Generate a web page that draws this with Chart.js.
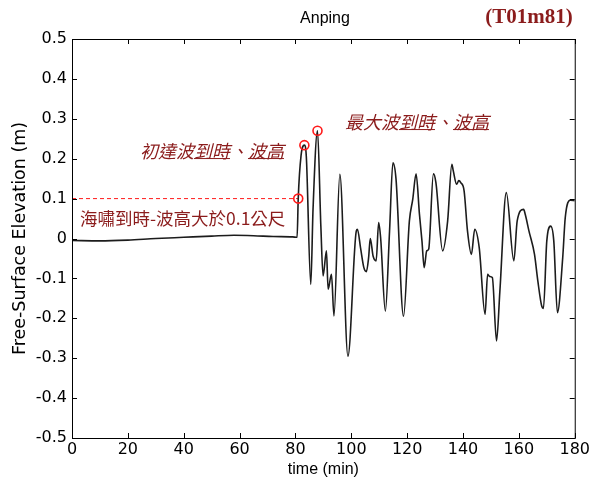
<!DOCTYPE html>
<html>
<head>
<meta charset="utf-8">
<script src="https://cdn.jsdelivr.net/npm/chart.js@4.4.1/dist/chart.umd.min.js"></script>
<style>
  html, body { margin: 0; padding: 0; background: #fff; }
</style>
</head>
<body>
<canvas id="tideChart" width="592" height="479"></canvas>
<script>
// time (min) / free-surface elevation (m)
const times = [
    0, 10, 20, 30, 40, 50, 58, 65, 72, 79, 80.6,
    81.0, 82.0, 83.2, 83.9, 85.5, 86.3, 87.9, 89.1, 89.9, 91.1, 91.7, 92.9, 93.8,
    95.9, 98.8, 101.8, 102.2, 103.3, 104.5, 105.4, 106.2, 106.8, 107.8, 108.9,
    109.8, 110.5, 112.2, 113.7, 114.9, 116.0, 118.7, 120.8, 122.0, 123.2, 124.4,
    125.3, 126.1, 127.0, 127.7, 129.4, 130.3, 132.7, 134.5, 136.0, 136.5, 137.7,
    138.5, 139.2, 140.4, 141.6, 143.0, 144.2, 145.8, 147.9, 148.8, 149.5, 150.5,
    152.0, 153.2, 155.5, 158.2, 159.4, 161.7, 162.3, 163.6, 165.6, 166.8, 168.2,
    168.8, 170.0, 171.4, 172.5, 173.8, 175.7, 176.6, 178.4, 180
];
const elevations = [
    -0.005, -0.006, -0.004, 0.000, 0.003, 0.006, 0.008, 0.007, 0.005, 0.004, 0.003,
    0.100, 0.207, 0.234, 0.205, -0.115, 0.073, 0.270, 0.031, -0.094, -0.031, -0.127, -0.090, -0.194,
    0.161, -0.295, 0.019, 0.023, -0.023, -0.073, -0.083, -0.048, 0.000, -0.044, -0.056,
    0.040, 0.002, -0.182, 0.019, 0.190, 0.150, -0.195, 0.044, 0.098, 0.162, 0.061,
    -0.006, -0.073, -0.031, -0.027, 0.162, 0.140, -0.031, 0.044, 0.186, 0.170, 0.136,
    0.145, 0.140, 0.119, 0.019, -0.040, 0.023, -0.023, -0.190, -0.090, -0.095, -0.098,
    -0.257, -0.132, 0.115, -0.056, 0.044, 0.073, 0.060, 0.019, -0.040, -0.107, -0.170,
    -0.175, -0.006, 0.031, -0.006, -0.186, -0.048, 0.052, 0.096, 0.095
];

// arrival (> 0.1 m), first wave peak, maximum wave peak
const markTimes = [81.0, 83.2, 87.9];
const markValues = [0.100, 0.234, 0.270];

const thresholdTimes = [0, 81.0];
const thresholdValue = 0.1;

const xTicks = [0, 20, 40, 60, 80, 100, 120, 140, 160, 180];
const yTicks = [-0.5, -0.4, -0.3, -0.2, -0.1, 0, 0.1, 0.2, 0.3, 0.4, 0.5];

const labelFirst = '初達波到時、波高';
const labelMax = '最大波到時、波高';
const labelArrival = '海嘯到時-波高大於0.1公尺';
const chartTitle = 'Anping';
const caseTag = '(T01m81)';

const noteColor = '#8b1c1c';

// MATLAB style box with inward ticks on all four sides
const boxTicks = {
    id: 'boxTicks',
    afterDraw(chart) {
        const { ctx, chartArea: a, scales: { x, y } } = chart;
        ctx.save();
        ctx.strokeStyle = '#000';
        ctx.lineWidth = 1;
        ctx.strokeRect(a.left + 0.5, a.top + 0.5, a.right - a.left, a.bottom - a.top);
        ctx.beginPath();
        xTicks.forEach(v => {
            const px = Math.round(x.getPixelForValue(v)) + 0.5;
            ctx.moveTo(px, a.bottom); ctx.lineTo(px, a.bottom - 5);
            ctx.moveTo(px, a.top); ctx.lineTo(px, a.top + 5);
        });
        yTicks.forEach(v => {
            const py = Math.round(y.getPixelForValue(v)) + 0.5;
            ctx.moveTo(a.left, py); ctx.lineTo(a.left + 5, py);
            ctx.moveTo(a.right, py); ctx.lineTo(a.right - 5, py);
        });
        ctx.stroke();
        ctx.restore();
    }
};

function noteWithUnderline(ctx, text, x, y, font, size, underlined) {
    ctx.font = font;
    ctx.fillText(text, x, y);
    ctx.lineWidth = 1;
    underlined.forEach(part => {
        const i = text.indexOf(part);
        const x0 = x + ctx.measureText(text.slice(0, i)).width;
        const x1 = x0 + ctx.measureText(part).width;
        ctx.beginPath();
        ctx.moveTo(x0, y + size * 0.42);
        ctx.lineTo(x1, y + size * 0.42);
        ctx.stroke();
    });
}

const notes = {
    id: 'notes',
    afterDraw(chart) {
        const ctx = chart.ctx;
        ctx.save();
        ctx.textBaseline = 'middle';
        ctx.fillStyle = '#000';
        ctx.textAlign = 'center';
        ctx.font = '16px "Liberation Sans"';
        ctx.fillText(chartTitle, 325, 19);

        ctx.fillStyle = noteColor;
        ctx.font = 'bold 21px "Liberation Serif"';
        ctx.fillText(caseTag, 529, 18);

        ctx.textAlign = 'left';
        ctx.strokeStyle = noteColor;
        const cjk = '"Noto Sans CJK TC"';
        noteWithUnderline(ctx, labelFirst, 140, 151, 'italic 18px ' + cjk, 18, ['到時', '波高']);
        noteWithUnderline(ctx, labelMax, 345, 122, 'italic 18px ' + cjk, 18, ['到時', '波高']);
        noteWithUnderline(ctx, labelArrival, 80, 218, '17.5px ' + cjk, 17.5, []);
        ctx.restore();
    }
};

const ctx = document.getElementById('tideChart').getContext('2d');
const tideChart = new Chart(ctx, {
    type: 'line',
    data: {
        datasets: [{
            label: 'threshold',
            data: thresholdTimes.map(t => ({ x: t, y: thresholdValue })),
            borderColor: '#ff1a1a',
            borderWidth: 1,
            borderDash: [4, 3],
            pointRadius: 0,
            order: 3
        }, {
            label: 'elevation',
            data: times.map((t, i) => ({ x: t, y: elevations[i] })),
            borderColor: '#1c1c1c',
            borderWidth: 1.6,
            pointRadius: 0,
            cubicInterpolationMode: 'monotone',
            order: 2
        }, {
            label: 'marks',
            data: markTimes.map((t, i) => ({ x: t, y: markValues[i] })),
            showLine: false,
            pointRadius: 4.5,
            pointBorderColor: '#ff1a1a',
            pointBackgroundColor: 'rgba(0,0,0,0)',
            pointBorderWidth: 1.6,
            order: 1
        }]
    },
    options: {
        responsive: false,
        animation: false,
        devicePixelRatio: 1,
        layout: { padding: { top: 39, right: 16, left: 0, bottom: 0 } },
        plugins: {
            legend: { display: false },
            tooltip: { enabled: false }
        },
        scales: {
            x: {
                type: 'linear',
                min: 0,
                max: 180,
                afterFit: s => { s.height = 41; },
                afterBuildTicks: s => { s.ticks = xTicks.map(v => ({ value: v })); },
                grid: { display: false, drawTicks: false, tickLength: 0 },
                border: { display: false },
                ticks: {
                    color: '#000',
                    padding: 2,
                    maxRotation: 0,
                    font: { family: 'DejaVu Sans', size: 16 }
                },
                title: {
                    display: true,
                    text: 'time (min)',
                    color: '#000',
                    padding: { top: 0, bottom: 0 },
                    font: { family: 'Liberation Sans', size: 16 }
                }
            },
            y: {
                min: -0.5,
                max: 0.5,
                afterFit: s => { s.width = 72; },
                afterBuildTicks: s => { s.ticks = yTicks.map(v => ({ value: v })); },
                grid: { display: false, drawTicks: false, tickLength: 0 },
                border: { display: false },
                ticks: {
                    color: '#000',
                    padding: 5,
                    font: { family: 'DejaVu Sans', size: 16 },
                    callback: v => String(Math.round(v * 10) / 10)
                },
                title: {
                    display: true,
                    text: 'Free-Surface Elevation (m)',
                    color: '#000',
                    padding: { top: 10, bottom: 0 },
                    font: { family: 'DejaVu Sans', size: 17.5 }
                }
            }
        }
    },
    plugins: [boxTicks, notes]
});
</script>
</body>
</html>
